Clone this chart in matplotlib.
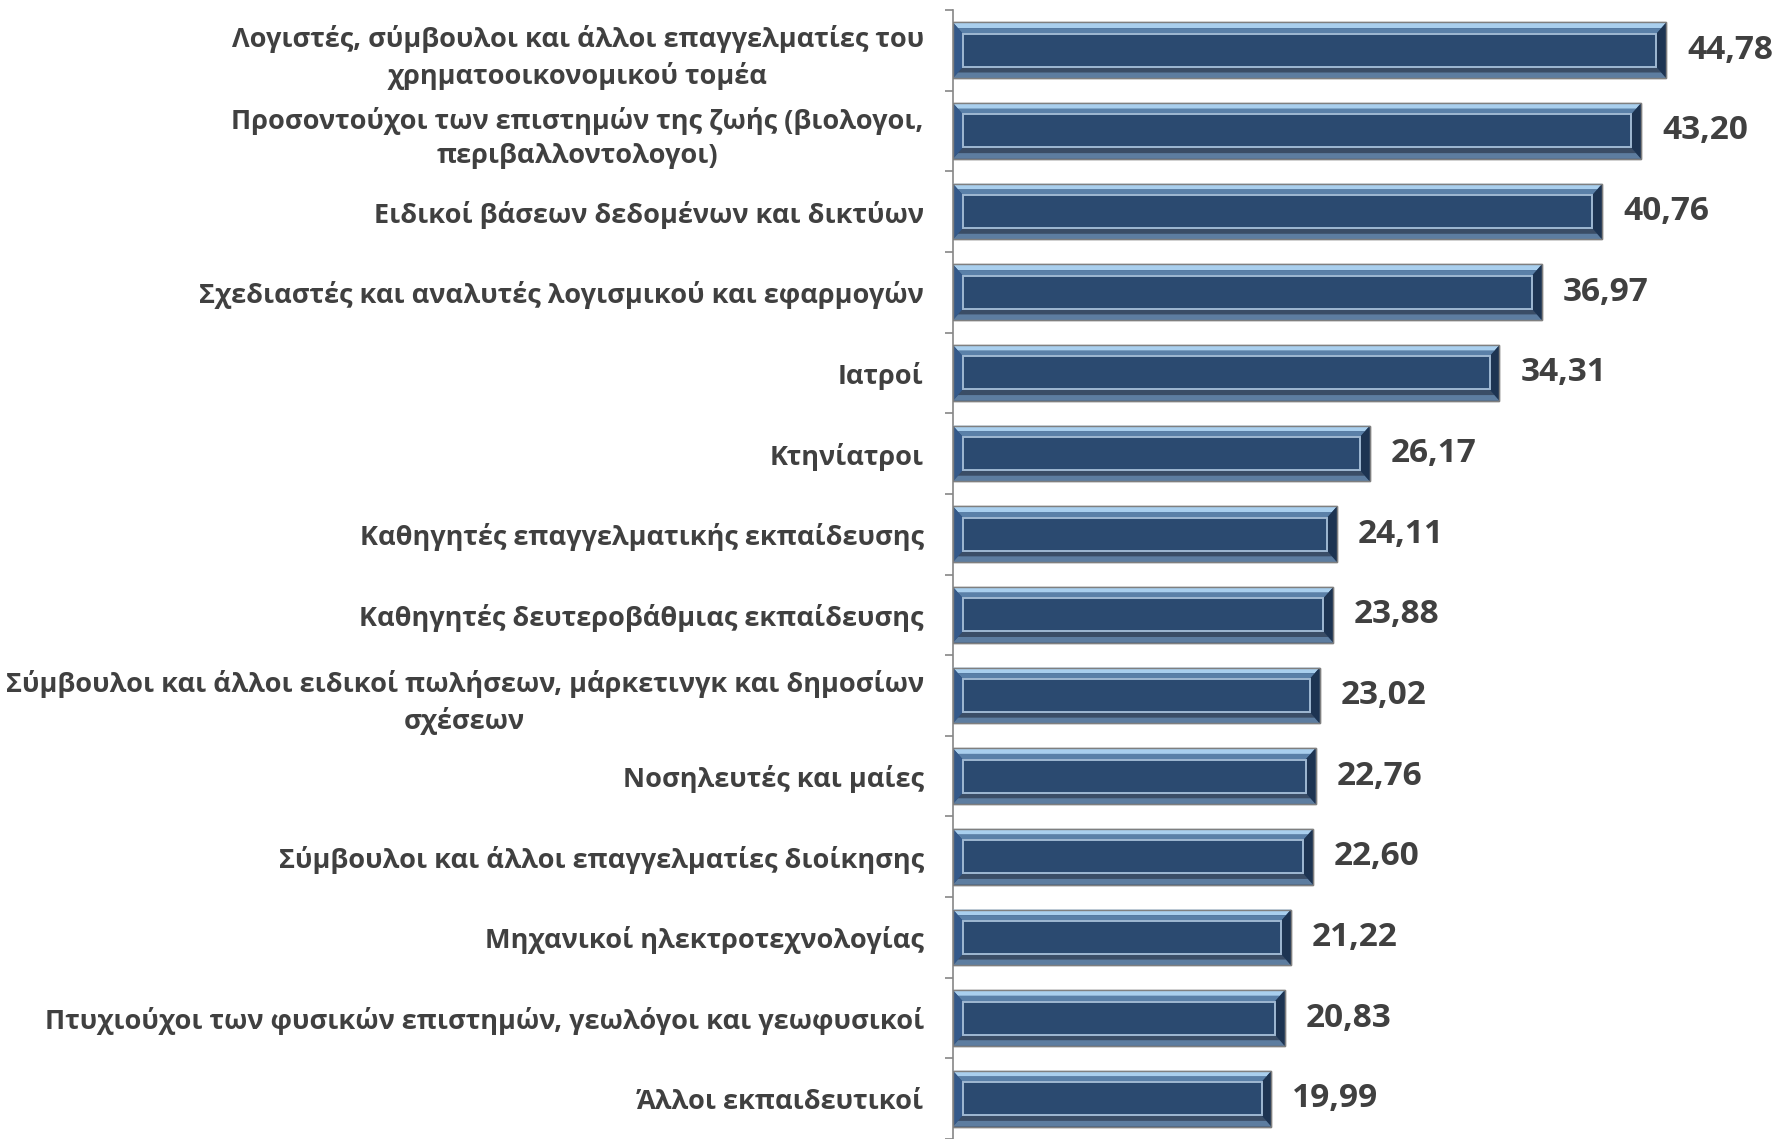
import numpy as np
import matplotlib.pyplot as plt
from matplotlib.patches import Polygon, Rectangle

# Data (top to bottom)
categories = [
    'Λογιστές, σύμβουλοι και άλλοι επαγγελματίες του\nχρηματοοικονομικού τομέα',
    'Προσοντούχοι των επιστημών της ζωής (βιολογοι,\nπεριβαλλοντολογοι)',
    'Ειδικοί βάσεων δεδομένων και δικτύων',
    'Σχεδιαστές και αναλυτές λογισμικού και εφαρμογών',
    'Ιατροί',
    'Κτηνίατροι',
    'Καθηγητές επαγγελματικής εκπαίδευσης',
    'Καθηγητές δευτεροβάθμιας εκπαίδευσης',
    'Σύμβουλοι και άλλοι ειδικοί πωλήσεων, μάρκετινγκ και δημοσίων\nσχέσεων',
    'Νοσηλευτές και μαίες',
    'Σύμβουλοι και άλλοι επαγγελματίες διοίκησης',
    'Μηχανικοί ηλεκτροτεχνολογίας',
    'Πτυχιούχοι των φυσικών επιστημών, γεωλόγοι και γεωφυσικοί',
    'Άλλοι εκπαιδευτικοί',
]
values = [44.78, 43.20, 40.76, 36.97, 34.31, 26.17, 24.11, 23.88, 23.02,
          22.76, 22.60, 21.22, 20.83, 19.99]
value_labels = ['44,78', '43,20', '40,76', '36,97', '34,31', '26,17', '24,11',
                '23,88', '23,02', '22,76', '22,60', '21,22', '20,83', '19,99']

text_color = '#404040'
plt.rcParams['font.family'] = ['Open Sans', 'DejaVu Sans']

fig = plt.figure(figsize=(17.86, 11.39), dpi=100)
ax = fig.add_axes([953 / 1786, 0, 1 - 953 / 1786, 1 - 10 / 1139])

y = np.arange(len(values))
h = 0.69
ax.barh(y, values, height=h, color='#2b4a70', edgecolor='#808080', linewidth=1.0, zorder=2)

# bevel effect around each bar
bw = 0.62   # bevel width in x units
bh = 0.14   # bevel height in y units
for yi, v in zip(y, values):
    x0, x1 = 0, v
    t, b = yi - h / 2, yi + h / 2   # t is visually on top (inverted axis)
    # top bevel, two tones
    ax.add_patch(Polygon([(x0, t), (x1, t), (x1 - bw / 2, t + bh / 2), (x0 + bw / 2, t + bh / 2)],
                         closed=True, color='#a9cfee', lw=0, zorder=3))
    ax.add_patch(Polygon([(x0 + bw / 2, t + bh / 2), (x1 - bw / 2, t + bh / 2), (x1 - bw, t + bh), (x0 + bw, t + bh)],
                         closed=True, color='#5a80a8', lw=0, zorder=3))
    # bottom bevel
    ax.add_patch(Polygon([(x0, b), (x1, b), (x1 - bw, b - bh), (x0 + bw, b - bh)],
                         closed=True, color='#3a4d66', lw=0, zorder=3))
    ax.add_patch(Polygon([(x0, b), (x1, b), (x1 - bw / 2, b - bh / 2), (x0 + bw / 2, b - bh / 2)],
                         closed=True, color='#5d7da0', lw=0, zorder=3))
    # left and right bevels
    ax.add_patch(Polygon([(x0, t), (x0 + bw, t + bh), (x0 + bw, b - bh), (x0, b)],
                         closed=True, color='#34598a', lw=0, zorder=3))
    ax.add_patch(Polygon([(x1, t), (x1 - bw, t + bh), (x1 - bw, b - bh), (x1, b)],
                         closed=True, color='#1d3452', lw=0, zorder=3))
    # inner face with light rim
    ax.add_patch(Rectangle((x0 + bw, t + bh), v - 2 * bw, h - 2 * bh,
                           facecolor='#2b4a70', edgecolor='#9fb8d2', lw=1.4, zorder=4))
    # outer thin border
    ax.add_patch(Rectangle((x0, t), v, h, facecolor='none', edgecolor='#7f7f7f', lw=1.0, zorder=5))

for yi, v, lab in zip(y, values, value_labels):
    ax.annotate(lab, (v, yi), xytext=(15, 0), textcoords='offset points',
                va='center', ha='left', fontsize=24, fontweight='bold', color=text_color)

ax.set_xlim(0, 52.3)
ax.set_ylim(13.47, -0.5)

ax.set_yticks(y)
ax.set_yticklabels(categories)
for lbl in ax.get_yticklabels():
    lbl.set_multialignment('center')
    lbl.set_fontweight('bold')
    lbl.set_linespacing(1.4)
ax.tick_params(axis='y', which='major', length=0, pad=21, labelsize=19.5, labelcolor=text_color)
ax.set_yticks(np.arange(-0.5, len(values), 1.0), minor=True)
ax.tick_params(axis='y', which='minor', length=6, width=1.2, color='#868686')

ax.set_xticks([])
for side in ['top', 'right', 'bottom']:
    ax.spines[side].set_visible(False)
ax.spines['left'].set_color('#868686')
ax.spines['left'].set_linewidth(1.2)

fig.savefig('out.png', dpi=100)
